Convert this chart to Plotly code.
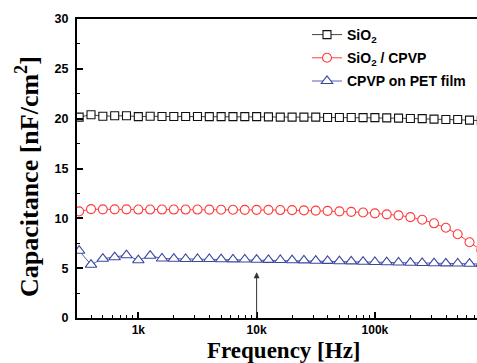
import math
import plotly.graph_objects as go

# ---- data ----
freq_hz = [316, 398, 501, 631, 794, 1000, 1259, 1585, 1995, 2512, 3162, 3981,
           5012, 6310, 7943, 10000, 12589, 15849, 19953, 25119, 31623, 39811,
           50119, 63096, 79433, 100000, 125893, 158489, 199526, 251189, 316228,
           398107, 501187, 630957, 794328]

sio2 = [20.15, 20.4, 20.25, 20.3, 20.3, 20.2, 20.25, 20.22, 20.22, 20.22, 20.22,
        20.2, 20.2, 20.2, 20.2, 20.2, 20.18, 20.15, 20.15, 20.15, 20.15, 20.12,
        20.12, 20.12, 20.1, 20.1, 20.08, 20.05, 20.02, 20.0, 19.95, 19.92, 19.92,
        19.85, 19.8]

sio2_cpvp = [10.7, 10.92, 10.9, 10.9, 10.9, 10.88, 10.88, 10.88, 10.88, 10.88,
             10.88, 10.87, 10.86, 10.86, 10.85, 10.85, 10.85, 10.83, 10.82, 10.8,
             10.77, 10.75, 10.7, 10.65, 10.58, 10.5, 10.4, 10.3, 10.12, 9.86, 9.5,
             9.05, 8.4, 7.6, 6.8]

cpvp_pet = [6.75, 5.35, 5.95, 6.1, 6.3, 5.8, 6.25, 5.97, 5.95, 5.92, 5.92, 5.92,
            5.9, 5.88, 5.87, 5.85, 5.83, 5.82, 5.8, 5.78, 5.75, 5.73, 5.7, 5.68,
            5.65, 5.62, 5.6, 5.57, 5.55, 5.52, 5.5, 5.48, 5.47, 5.45, 5.42]

series_names = ["SiO<sub>2</sub>", "SiO<sub>2</sub> / CPVP", "CPVP on PET film"]
x_tick_vals = [1000, 10000, 100000]
x_tick_text = ["1k", "10k", "100k"]
x_range_hz = [303, 730000]
y_range = [0, 30]
arrow_freq = 10000
arrow_top = 4.6

# ---- figure ----
W, H = 477, 363
ML, MR, MT, MB = 77, 0, 19, 45
PW, PH = W - ML - MR, H - MT - MB

sans = "Liberation Sans"
serif = "Liberation Serif"

fig = go.Figure()
styles = [
    dict(color="#444444", symbol="square", size=8, mcolor="#111111"),
    dict(color="#ff4040", symbol="circle", size=9, mcolor="#ff3b3b"),
    dict(color="#5560b0", symbol="triangle-up", size=10, mcolor="#3b46a0"),
]
for name, ys, st in zip(series_names, [sio2, sio2_cpvp, cpvp_pet], styles):
    fig.add_trace(go.Scatter(
        x=freq_hz, y=ys, name=name, mode="lines+markers",
        line=dict(color=st["color"], width=1),
        marker=dict(symbol=st["symbol"], size=st["size"], color="white",
                    line=dict(width=1.1, color=st["mcolor"])),
        legendgroup=name,
    ))

# minor tick positions on log axis
minor_x = []
for dec in [100, 1000, 10000, 100000]:
    for m in range(2, 10):
        v = m * dec
        if x_range_hz[0] <= v <= x_range_hz[1]:
            minor_x.append(v)

fig.update_xaxes(
    type="log",
    range=[math.log10(x_range_hz[0]), math.log10(x_range_hz[1])],
    tickmode="array", tickvals=x_tick_vals, ticktext=x_tick_text,
    ticks="inside", ticklen=6, tickwidth=1.5, tickcolor="black",
    minor=dict(tickmode="array", tickvals=minor_x, ticks="inside", ticklen=3,
               tickwidth=1, tickcolor="black"),
    showline=True, linecolor="black", linewidth=2, mirror=True,
    showgrid=False, zeroline=False, automargin=False,
    tickfont=dict(family=sans, size=12, color="black", weight="bold"),
)
fig.update_yaxes(
    range=y_range, tickmode="linear", tick0=0, dtick=5,
    ticks="inside", ticklen=6, tickwidth=1.5, tickcolor="black",
    minor=dict(dtick=2.5, ticks="inside", ticklen=3, tickwidth=1, tickcolor="black"),
    showline=True, linecolor="black", linewidth=2,
    showgrid=False, zeroline=False, automargin=False,
    tickfont=dict(family=sans, size=12.5, color="black", weight="bold"),
    ticklabelstandoff=4,
)

# y-axis title
fig.add_annotation(
    x=(27 - ML) / PW, y=(MT + PH - 177) / PH, xref="paper", yref="paper",
    xanchor="center", yanchor="middle", showarrow=False, textangle=-90,
    text="Capacitance [nF/cm<sup>2</sup>]",
    font=dict(family=serif, size=26, color="black", weight="bold"),
)
# x-axis title
fig.add_annotation(
    x=(284 - ML) / PW, y=-0.06, xref="paper", yref="paper",
    xanchor="center", yanchor="top", showarrow=False,
    text="Frequency [Hz]",
    font=dict(family=serif, size=23, color="black", weight="bold"),
)
# arrow marking 10 kHz
fig.add_annotation(
    x=math.log10(arrow_freq), y=arrow_top, ax=math.log10(arrow_freq), ay=0,
    xref="x", yref="y", axref="x", ayref="y",
    showarrow=True, arrowhead=2, arrowsize=1.2, arrowwidth=1, arrowcolor="#333333",
    text="",
)

fig.update_layout(
    width=W, height=H,
    margin=dict(l=ML, r=MR, t=MT, b=MB),
    paper_bgcolor="white", plot_bgcolor="white",
    showlegend=True,
    legend=dict(x=0.575, y=1.0, xanchor="left", yanchor="top",
                bgcolor="rgba(0,0,0,0)", tracegroupgap=2,
                font=dict(family=sans, size=14, color="black", weight="bold"),
                itemwidth=30),
)

fig.write_html(
    "out.html",
    config={"displayModeBar": False},
    post_script="document.body.style.margin='0px';document.body.style.overflow='hidden';",
)
